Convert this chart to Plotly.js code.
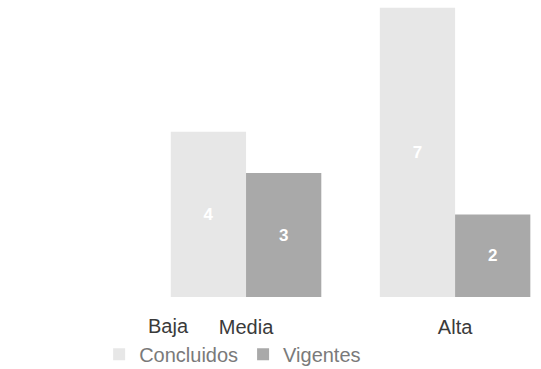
<!DOCTYPE html>
<html>
<head>
<meta charset="utf-8">
<script src="https://cdn.plot.ly/plotly-3.0.1.min.js"></script>
<style>html,body{margin:0;padding:0;background:#fff;}#chart{width:541px;height:369px;}</style>
</head>
<body>
<div id="chart"></div>
<script>
const categories = ['Baja', 'Media', 'Alta'];
const concluidos = [0, 4, 7];
const vigentes = [0, 3, 2];
const seriesNames = ['Concluidos', 'Vigentes'];

const traces = [
  {
    type: 'bar', name: seriesNames[0], x: categories, y: concluidos,
    text: concluidos.map(v => v ? String(v) : ''), textposition: 'inside', insidetextanchor: 'middle',
    textfont: {family: 'Liberation Sans, Arial, sans-serif', size: 17, color: '#ffffff', weight: 'bold'},
    marker: {color: '#e7e7e7'}, hoverinfo: 'none'
  },
  {
    type: 'bar', name: seriesNames[1], x: categories, y: vigentes,
    text: vigentes.map(v => v ? String(v) : ''), textposition: 'inside', insidetextanchor: 'middle',
    textfont: {family: 'Liberation Sans, Arial, sans-serif', size: 17, color: '#ffffff', weight: 'bold'},
    marker: {color: '#a9a9a9'}, hoverinfo: 'none'
  }
];

const layout = {
  width: 541, height: 369,
  margin: {l: 0, r: 0, t: 0, b: 72, autoexpand: false},
  paper_bgcolor: '#ffffff', plot_bgcolor: '#ffffff',
  barmode: 'group', bargap: 0.28, bargroupgap: 0,
  showlegend: true,
  legend: {orientation: 'h', x: 0.43, xanchor: 'center', y: -0.193, yanchor: 'middle',
           bgcolor: 'rgba(0,0,0,0)',
           font: {family: 'Liberation Sans, Arial, sans-serif', size: 20, color: '#7a7a7a'},
           itemwidth: 30, tracegroupgap: 0},
  xaxis: {type: 'category', range: [-0.177, 2.411], automargin: false,
          showgrid: false, zeroline: false, showline: false,
          ticks: 'outside', ticklen: 12, tickcolor: 'rgba(0,0,0,0)',
          tickvals: categories.slice(1), ticktext: categories.slice(1),
          tickfont: {family: 'Liberation Sans, Arial, sans-serif', size: 20, color: '#3a3a3a'}},
  yaxis: {range: [0, 7.19], visible: false, automargin: false, showgrid: false, zeroline: false},
  annotations: [{x: categories[0], y: 0, xref: 'x', yref: 'y', xshift: 131, yshift: -29,
                 text: categories[0], showarrow: false, yanchor: 'middle',
                 font: {family: 'Liberation Sans, Arial, sans-serif', size: 20, color: '#3a3a3a'}}]
};

Plotly.newPlot('chart', traces, layout, {displayModeBar: false, staticPlot: true});
</script>
</body>
</html>
